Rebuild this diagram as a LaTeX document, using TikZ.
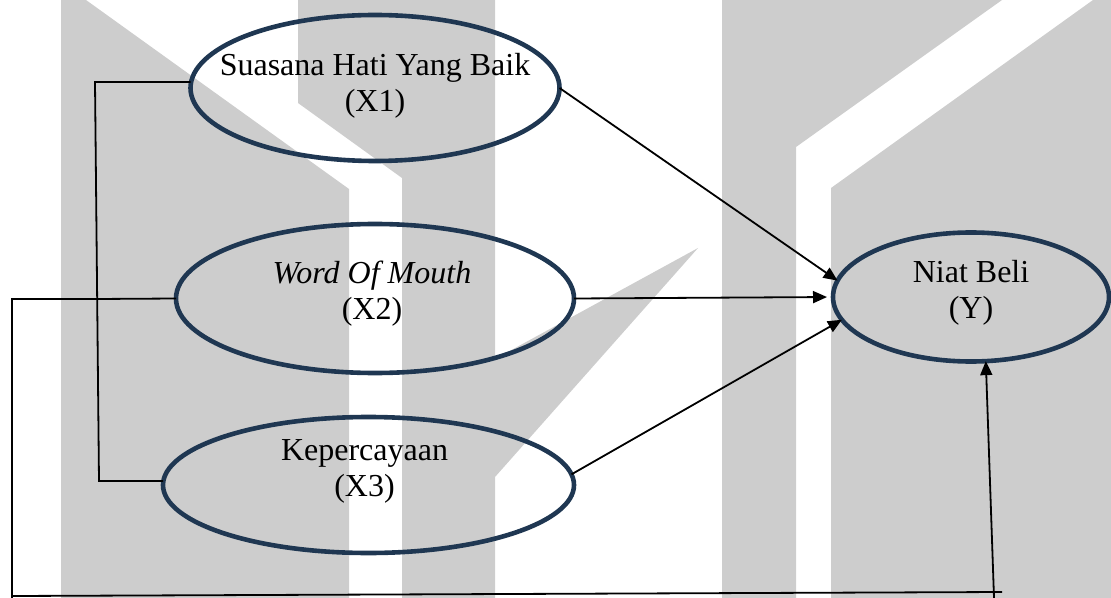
\documentclass[tikz,border=0pt]{standalone}
\usepackage{fontspec}
\setmainfont{Liberation Serif}
\usetikzlibrary{shapes.geometric,arrows.meta,positioning}
\definecolor{navy}{HTML}{1F3752}
\definecolor{wmgray}{HTML}{CDCDCD}
\tikzset{
  latent/.style = {ellipse, draw=navy, line width=2.3pt, inner sep=0pt,
    outer sep=0pt},% variabel laten
  lbl/.style = {align=center, inner sep=0pt,
    font=\fontsize{16}{18}\selectfont},% teks di dalam elips
  jalur/.style = {line width=0.9pt, -{Triangle[length=7pt,width=6pt]}},% panah pengaruh
  kurung/.style = {line width=0.9pt}% garis kurung
}

\begin{document}
\begin{tikzpicture}[x=0.5pt,y=-0.5pt]
        \useasboundingbox (0,0) rectangle (1111,598);
        % watermark
        \fill[wmgray] (61,0) -- (86,0) -- (349,189) -- (349,598) -- (61,598) -- cycle;
        \fill[wmgray] (298,0) -- (495,0) -- (495,359) -- (698,248) -- (495,477)
            -- (495,598) -- (402,598) -- (402,178) -- (298,103) -- cycle;
        \fill[wmgray] (722,0) -- (1002,0) -- (796,147) -- (796,598) -- (722,598) -- cycle;
        \fill[wmgray] (831,188) -- (1093,0) -- (1111,0) -- (1111,598) -- (831,598) -- cycle;

        \node [latent, minimum width=184.5pt, minimum height=73pt] (x1) at (375,88) {};
        \node [latent, minimum width=199pt, minimum height=74.5pt, below=31.5pt of x1] (x2) {};
        \node [latent, minimum width=205.5pt, minimum height=68pt, below=22pt of x2,
            xshift=-3.25pt] (x3) {};
        \node [latent, minimum width=138pt, minimum height=64.5pt, right=129.5pt of x2,
            yshift=0.75pt] (y) {};

        \node [lbl] (x1t) at ([yshift=1pt]x1) {Suasana Hati Yang Baik\\(X1)};
        \node [lbl] (x2t) at ([xshift=-1.5pt,yshift=2.5pt]x2) {\textit{Word Of Mouth}\\(X2)};
        \node [lbl] (x3t) at ([xshift=-2pt,yshift=7pt]x3) {Kepercayaan\\(X3)};
        \node [lbl] (yt) at ([yshift=2pt]y) {Niat Beli\\(Y)};

        \draw [jalur] (x1.east) -- (y.173);
        \draw [jalur, shorten >=3pt] (x2.east) -- (y.west);
        \draw [jalur] (x3.3) -- (y.190);

        \coordinate (b1) at (95,82);
        \coordinate (b2) at (96,299);
        \coordinate (b3) at (99,481);
        \draw [kurung] (x1.west |- b1) -- (b1) -- (b3) -- (x3.west |- b3);
        \draw [kurung] (x2.west) -- (b2);

        \coordinate (o1) at (12,299);
        \coordinate (o2) at (12,598);
        \coordinate (o3) at (12,596);
        \coordinate (o4) at (1002,592);
        \coordinate (o5) at (994,598);
        \draw [kurung] (b2) -- (o1) -- (o2);
        \draw [kurung] (o3) -- (o4);
        \draw [jalur] (o5) -- (y.283);
\end{tikzpicture}
\end{document}
